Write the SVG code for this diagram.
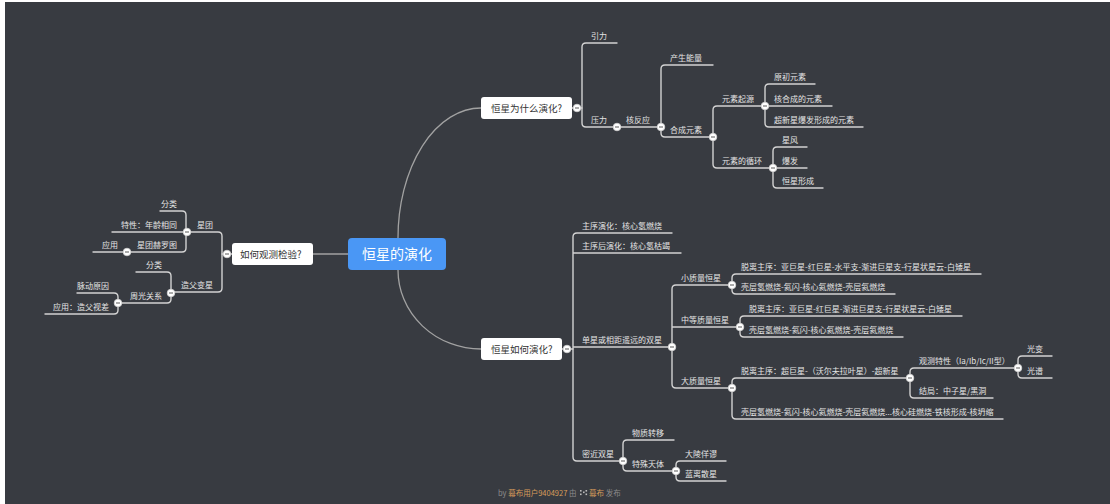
<svg xmlns="http://www.w3.org/2000/svg" xmlns:xlink="http://www.w3.org/1999/xlink" width="1110" height="504" viewBox="0 0 1110 504">
<style>
.t{font-family:"Noto Sans CJK SC","Noto Sans",sans-serif;font-size:8px;fill:#e4e4e4}
.e{text-anchor:end}
.bt{font-family:"Noto Sans CJK SC","Noto Sans",sans-serif;font-size:9.5px;fill:#333}
.box{fill:#fff}
.ln{fill:none;stroke:#d2d2d2;stroke-width:1.4;stroke-linecap:round}
.cl{fill:none;stroke:#a2a2a2;stroke-width:1.3}
.ft{font-family:"Noto Sans CJK SC","Noto Sans",sans-serif;font-size:7.5px;fill:#8c8c8c}
.or{fill:#d99d5b}
</style>
<defs>
<g id="btn"><circle r="3.8" fill="#fff" stroke="#d2d2d2" stroke-width="0.8"/><line x1="-2" y1="0" x2="2" y2="0" stroke="#666" stroke-width="1.1"/></g>
</defs>
<rect width="1110" height="504" fill="#fff"/>
<rect x="5" y="2" width="1105" height="502" fill="#383b41"/>

<g id="connectors">
<path class="cl" d="M398,238 A83,130 0 0 1 481,108"/>
<path class="cl" d="M398,270 A83,79 0 0 0 481,349"/>
<path class="cl" d="M313,254 H348"/>
<path class="ln" d="M572,108 H582"/>
<path class="ln" d="M617,43 H586 Q582,43 582,47 V123 Q582,127 586,127 H617"/>
<path class="ln" d="M617,127 H661"/>
<path class="ln" d="M713,65 H665 Q661,65 661,69 V133 Q661,137 665,137 H713"/>
<path class="ln" d="M765,106 H717 Q713,106 713,110 V164 Q713,168 717,168 H773"/>
<path class="ln" d="M815,84 H769 Q765,84 765,88 V123 Q765,127 769,127 H863 M765,106 H832"/>
<path class="ln" d="M807,147 H777 Q773,147 773,151 V184 Q773,188 777,188 H823 M773,168 H807"/>
<path class="ln" d="M562,349 H573"/>
<path class="ln" d="M672,233 H577 Q573,233 573,237 V457 Q573,461 577,461 H623 M573,253 H681 M573,347 H672"/>
<path class="ln" d="M732,285 H676 Q672,285 672,289 V384 Q672,388 676,388 H732 M672,327 H740"/>
<path class="ln" d="M981,274 H736 Q732,274 732,278 V290 Q732,294 736,294 H895"/>
<path class="ln" d="M962,316 H744 Q740,316 740,320 V333 Q740,337 744,337 H903"/>
<path class="ln" d="M910,378 H736 Q732,378 732,382 V415 Q732,419 736,419 H1003"/>
<path class="ln" d="M1018,368 H914 Q910,368 910,372 V394 Q910,398 914,398 H993"/>
<path class="ln" d="M1052,356 H1022 Q1018,356 1018,360 V374 Q1018,378 1022,378 H1052"/>
<path class="ln" d="M674,440 H627 Q623,440 623,444 V467 Q623,471 627,471 H676"/>
<path class="ln" d="M726,461 H680 Q676,461 676,465 V477 Q676,481 680,481 H726"/>
<path class="ln" d="M232,254 H222"/>
<path class="ln" d="M187,232 H218 Q222,232 222,236 V288 Q222,292 218,292 H171"/>
<path class="ln" d="M160,211 H182 Q186,211 186,215 V248 Q186,252 182,252 H127 M186,232 H112"/>
<path class="ln" d="M127,252 H93"/>
<path class="ln" d="M136,272 H167 Q171,272 171,276 V299 Q171,303 167,303 H118"/>
<path class="ln" d="M77,293 H114 Q118,293 118,297 V310 Q118,314 114,314 H45"/>
</g>

<g id="root"><rect x="348" y="238" width="98" height="32" rx="4" fill="#4a97f5"/><text x="397" y="259" text-anchor="middle" font-family="'Noto Sans CJK SC',sans-serif" font-size="14" fill="#fff">恒星的演化</text></g>

<g id="n-why"><rect class="box" x="481" y="97" width="91" height="22" rx="3"/><text class="bt" x="491" y="112">恒星为什么演化?</text><use xlink:href="#btn" x="577" y="108"/></g>
<g id="n-yinli"><text class="t" x="591" y="39">引力</text></g>
<g id="n-yali"><text class="t" x="591" y="123">压力</text><use xlink:href="#btn" x="617" y="127"/></g>
<g id="n-hefanying"><text class="t" x="626" y="123">核反应</text><use xlink:href="#btn" x="661" y="127"/></g>
<g id="n-nengliang"><text class="t" x="670" y="61">产生能量</text></g>
<g id="n-hecheng"><text class="t" x="670" y="133">合成元素</text><use xlink:href="#btn" x="713" y="137"/></g>
<g id="n-qiyuan"><text class="t" x="722" y="102">元素起源</text><use xlink:href="#btn" x="765" y="106"/></g>
<g id="n-xunhuan"><text class="t" x="722" y="164">元素的循环</text><use xlink:href="#btn" x="773" y="168"/></g>
<g id="n-yuanchu"><text class="t" x="774" y="80">原初元素</text></g>
<g id="n-hehecheng"><text class="t" x="774" y="102">核合成的元素</text></g>
<g id="n-chaoxinxing"><text class="t" x="774" y="123">超新星爆发形成的元素</text></g>
<g id="n-xingfeng"><text class="t" x="782" y="143">星风</text></g>
<g id="n-baofa"><text class="t" x="782" y="164">爆发</text></g>
<g id="n-xingcheng"><text class="t" x="782" y="184">恒星形成</text></g>

<g id="n-how"><rect class="box" x="481" y="338" width="81" height="22" rx="3"/><text class="bt" x="491" y="353">恒星如何演化?</text><use xlink:href="#btn" x="567" y="349"/></g>
<g id="n-zhuxu"><text class="t" x="582" y="229">主序演化：核心氢燃烧</text></g>
<g id="n-zhuxuhou"><text class="t" x="582" y="249">主序后演化：核心氢枯竭</text></g>
<g id="n-danxing"><text class="t" x="582" y="343">单星或相距遥远的双星</text><use xlink:href="#btn" x="672" y="347"/></g>
<g id="n-mijin"><text class="t" x="582" y="457">密近双星</text><use xlink:href="#btn" x="623" y="461"/></g>
<g id="n-small"><text class="t" x="681" y="281">小质量恒星</text><use xlink:href="#btn" x="732" y="285"/></g>
<g id="n-mid"><text class="t" x="681" y="323">中等质量恒星</text><use xlink:href="#btn" x="740" y="327"/></g>
<g id="n-big"><text class="t" x="681" y="384">大质量恒星</text><use xlink:href="#btn" x="732" y="388"/></g>
<g id="n-s1"><text class="t" x="741" y="270">脱离主序：亚巨星-红巨星-水平支-渐进巨星支-行星状星云-白矮星</text></g>
<g id="n-s2"><text class="t" x="741" y="290">壳层氢燃烧-氦闪-核心氦燃烧-壳层氦燃烧</text></g>
<g id="n-m1"><text class="t" x="749" y="312">脱离主序：亚巨星-红巨星-渐进巨星支-行星状星云-白矮星</text></g>
<g id="n-m2"><text class="t" x="749" y="333">壳层氢燃烧-氦闪-核心氦燃烧-壳层氦燃烧</text></g>
<g id="n-b1"><text class="t" x="741" y="374">脱离主序：超巨星-（沃尔夫拉叶星）-超新星</text><use xlink:href="#btn" x="910" y="378"/></g>
<g id="n-b2"><text class="t" x="741" y="415">壳层氢燃烧-氦闪-核心氦燃烧-壳层氦燃烧...核心硅燃烧-铁核形成-核坍缩</text></g>
<g id="n-guance"><text class="t" x="919" y="364">观测特性（Ia/Ib/Ic/II型）</text><use xlink:href="#btn" x="1018" y="368"/></g>
<g id="n-jieju"><text class="t" x="919" y="394">结局：中子星/黑洞</text></g>
<g id="n-guangbian"><text class="t" x="1027" y="352">光变</text></g>
<g id="n-guangpu"><text class="t" x="1027" y="374">光谱</text></g>
<g id="n-wuzhi"><text class="t" x="632" y="436">物质转移</text></g>
<g id="n-teshu"><text class="t" x="632" y="467">特殊天体</text><use xlink:href="#btn" x="676" y="471"/></g>
<g id="n-daling"><text class="t" x="685" y="457">大陵佯谬</text></g>
<g id="n-lanlisan"><text class="t" x="685" y="477">蓝离散星</text></g>

<g id="n-observe"><rect class="box" x="232" y="243" width="81" height="22" rx="3"/><text class="bt" x="240" y="258">如何观测检验?</text><use xlink:href="#btn" x="227" y="254"/></g>
<g id="n-xingtuan"><text class="t e" x="213" y="228">星团</text><use xlink:href="#btn" x="187" y="232"/></g>
<g id="n-zaofu"><text class="t e" x="213" y="288">造父变星</text><use xlink:href="#btn" x="171" y="293"/></g>
<g id="n-fenlei1"><text class="t e" x="177" y="207">分类</text></g>
<g id="n-texing"><text class="t e" x="177" y="228">特性：年龄相同</text></g>
<g id="n-heluotu"><text class="t e" x="177" y="248">星团赫罗图</text><use xlink:href="#btn" x="127" y="252"/></g>
<g id="n-yingyong1"><text class="t e" x="118" y="248">应用</text></g>
<g id="n-fenlei2"><text class="t e" x="162" y="268">分类</text></g>
<g id="n-zhouguang"><text class="t e" x="162" y="299">周光关系</text><use xlink:href="#btn" x="118" y="303"/></g>
<g id="n-maidong"><text class="t e" x="109" y="289">脉动原因</text></g>
<g id="n-yingyong2"><text class="t e" x="109" y="310">应用：造父视差</text></g>

<g id="footer">
<text class="ft" x="498" y="496">by <tspan class="or">幕布用户9404927</tspan> 由</text>
<g fill="#bbb"><rect x="580" y="490" width="1.6" height="1.6"/><rect x="580" y="493.5" width="1.6" height="1.6"/><rect x="583" y="491.5" width="1.6" height="1.6"/><rect x="585.5" y="490" width="1.6" height="1.6"/><rect x="585.5" y="493.5" width="1.6" height="1.6"/></g>
<text class="ft" x="589" y="496"><tspan class="or">幕布</tspan> 发布</text>
</g>
</svg>
